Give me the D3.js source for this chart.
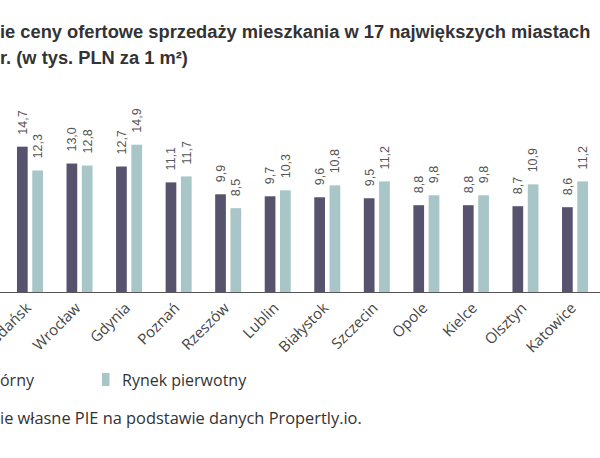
<!DOCTYPE html>
<html>
<head>
<meta charset="utf-8">
<script src="https://cdn.jsdelivr.net/npm/d3@7"></script>
<style>
  body { margin: 0; background: #fff; }
  svg { display: block; }
</style>
</head>
<body>
<script>
// Data (the picture is a crop: only these 12 cities are visible)
const cities = ['Gdańsk', 'Wrocław', 'Gdynia', 'Poznań', 'Rzeszów', 'Lublin',
                'Białystok', 'Szczecin', 'Opole', 'Kielce', 'Olsztyn', 'Katowice'];
const wtorny = [14.7, 13.0, 12.7, 11.1, 9.9, 9.7, 9.6, 9.5, 8.8, 8.8, 8.7, 8.6];
const pierwotny = [12.3, 12.8, 14.9, 11.7, 8.5, 10.3, 10.8, 11.2, 9.8, 9.8, 10.9, 11.2];
const seriesNames = ['Rynek wtórny', 'Rynek pierwotny'];
const colors = ['#57536f', '#a8c5c7'];

const width = 600, height = 458;
const baseY = 292.5;
const step = 49.55;

const svg = d3.select('body')
  .append('svg')
  .attr('width', width)
  .attr('height', height)
  .style('background', '#fff');

// text that is cut on the left edge: place so the visible part starts at x
function cutText(hidden, visible, x, y, style) {
  const t = svg.append('text').attr('y', y);
  Object.entries(style).forEach(([k, v]) => t.style(k, v));
  t.text(hidden);
  const w = hidden ? t.node().getComputedTextLength() : 0;
  t.text(hidden + visible).attr('x', x - w);
  return t;
}

// title
const titleStyle = {'font-family': 'Liberation Sans, Arial, sans-serif', 'font-weight': 'bold',
                    'font-size': '18.3px', 'fill': '#333'};
cutText('Średn', 'ie ceny ofertowe sprzedaży mieszkania w 17 największych miastach', 0, 38, titleStyle);
cutText('', 'r. (w tys. PLN za 1 m²)', 0, 64, titleStyle);

// scales
const x = d3.scaleBand()
  .domain(cities)
  .range([5.2, 5.2 + cities.length * step])
  .padding(0);

const xsub = d3.scaleBand()
  .domain(seriesNames)
  .range([x.bandwidth() / 2 - 13, x.bandwidth() / 2 + 13])
  .paddingInner(0.3);

const y = d3.scaleLinear()
  .domain([0, 15])
  .range([baseY, baseY - 15 * 9.92]);

const rows = cities.map((c, i) => ({city: c, values: [wtorny[i], pierwotny[i]]}));

const groups = svg.selectAll('g.city')
  .data(rows)
  .enter()
  .append('g')
  .attr('class', 'city')
  .attr('transform', d => `translate(${x(d.city)},0)`);

groups.selectAll('rect')
  .data(d => d.values.map((v, j) => ({name: seriesNames[j], v: v, j: j})))
  .enter()
  .append('rect')
  .attr('x', d => xsub(d.name))
  .attr('width', xsub.bandwidth())
  .attr('y', d => y(d.v))
  .attr('height', d => baseY - y(d.v))
  .attr('fill', d => colors[d.j]);

// value labels, rotated
groups.selectAll('text.val')
  .data(d => d.values.map((v, j) => ({name: seriesNames[j], v: v})))
  .enter()
  .append('text')
  .attr('class', 'val')
  .attr('transform', d => `translate(${xsub(d.name) + xsub.bandwidth() / 2},${y(d.v) - 12}) rotate(-90)`)
  .attr('dy', '0.35em')
  .style('font-family', 'Liberation Sans, Arial, sans-serif')
  .style('font-size', '12.5px')
  .style('fill', '#555')
  .text(d => d3.format('.1f')(d.v).replace('.', ','));

// x axis
const xaxis = svg.append('g')
  .attr('transform', `translate(0,${baseY})`)
  .call(d3.axisBottom(x).tickSize(0));
xaxis.select('.domain').remove();
xaxis.selectAll('text')
  .attr('x', 0).attr('y', 0).attr('dy', 0)
  .attr('transform', 'translate(2,16.5) rotate(-45)')
  .style('text-anchor', 'end')
  .style('font-family', 'Open Sans, sans-serif')
  .style('font-size', '15px')
  .style('fill', '#444');

svg.append('line')
  .attr('x1', 0).attr('x2', width)
  .attr('y1', baseY).attr('y2', baseY)
  .attr('stroke', '#555')
  .attr('stroke-width', 1.2);

// legend
const legStyle = {'font-family': 'Open Sans, sans-serif', 'font-size': '16px', 'fill': '#333'};
const firstLeg = cutText('Rynek wt', 'órny', 0, 386, legStyle);
const firstX = +firstLeg.attr('x');
svg.append('rect')
  .attr('x', firstX - 20).attr('y', 373)
  .attr('width', 7.5).attr('height', 13)
  .attr('fill', colors[0]);
svg.append('rect')
  .attr('x', 102).attr('y', 373)
  .attr('width', 7.5).attr('height', 13)
  .attr('fill', colors[1]);
const secondLeg = svg.append('text').attr('x', 122).attr('y', 386).text(seriesNames[1]);
Object.entries(legStyle).forEach(([k, v]) => secondLeg.style(k, v));

// source
cutText('Źródło: opracowan', 'ie własne PIE na podstawie danych Propertly.io.', 0, 424,
        {'font-family': 'Open Sans, sans-serif', 'font-size': '16.4px', 'fill': '#333'});
</script>
</body>
</html>
